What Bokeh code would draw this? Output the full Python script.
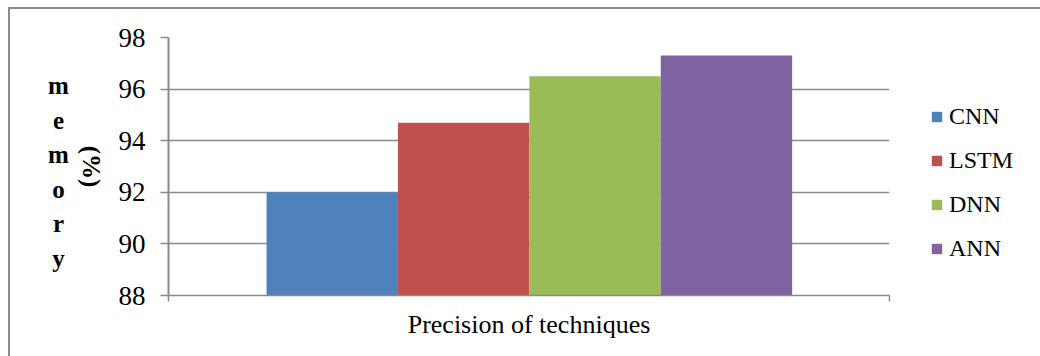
import math
from bokeh.plotting import figure
from bokeh.layouts import row
from bokeh.models import FixedTicker, Legend, LegendItem, ColumnDataSource
from bokeh.core.properties import value
from bokeh.embed import file_html
from bokeh.resources import INLINE

# ---- data ----
techniques = ["CNN", "LSTM", "DNN", "ANN"]
memory_pct = [92.0, 94.7, 96.5, 97.3]
colors = ["#4F81BD", "#C0504D", "#9BBB59", "#8064A2"]
y_ticks = [88, 90, 92, 94, 96, 98]
x_title = "Precision of techniques"
y_title_word = "memory"
y_title_unit = "(%)"

SERIF = "Liberation Serif"
GRID = "#8a8a8a"
H = 347
LEFT_W, MAIN_W, RIGHT_W = 102, 782, 146
BORDER_TOP, BORDER_BOTTOM = 28, 61


def blank(width, xr, yr):
    f = figure(width=width, height=H, output_backend="svg", toolbar_location=None,
               x_range=xr, y_range=yr, x_axis_type=None, y_axis_type=None,
               min_border_left=0, min_border_right=0,
               min_border_top=BORDER_TOP, min_border_bottom=BORDER_BOTTOM)
    f.outline_line_color = None
    f.xgrid.visible = False
    f.ygrid.visible = False
    return f


# ---- left strip: stacked y-axis title (page-pixel coordinates) ----
left = blank(LEFT_W, (10, 10 + LEFT_W), (295, 37))
left.text(x=[58] * len(y_title_word),
          y=[85 + 34.5 * k for k in range(len(y_title_word))],
          text=list(y_title_word), text_font=value(SERIF), text_font_size="25px",
          text_font_style="bold", text_align="center", text_baseline="middle",
          text_color="black")
left.text(x=[91], y=[166], text=[y_title_unit], text_font=value(SERIF),
          text_font_size="25px", text_font_style="bold", text_align="center",
          text_baseline="middle", angle=-math.pi / 2, text_color="black")

# ---- main chart ----
p = figure(width=MAIN_W, height=H, output_backend="svg", toolbar_location=None,
           x_range=(0, 1), y_range=(88, 98),
           min_border_left=56, min_border_right=5,
           min_border_top=BORDER_TOP, min_border_bottom=BORDER_BOTTOM)
p.outline_line_color = None

# clustered bars for a single category
start, span = 0.136, 0.729
w = span / len(techniques)
xs = [start + w * (i + 0.5) for i in range(len(techniques))]
for i, (val, col) in enumerate(zip(memory_pct, colors)):
    p.vbar(x=[xs[i]], top=[val], bottom=88, width=w, fill_color=col, line_color=None)

yax = p.yaxis[0]
yax.ticker = FixedTicker(ticks=y_ticks)
yax.minor_tick_line_color = None
yax.major_tick_in = 0
yax.major_tick_out = 8
yax.major_tick_line_color = GRID
yax.major_tick_line_width = 1.5
yax.axis_line_color = GRID
yax.axis_line_width = 2
yax.major_label_text_font = SERIF
yax.major_label_text_font_size = "27px"
yax.major_label_text_color = "black"
yax.major_label_standoff = 15

xax = p.xaxis[0]
xax.ticker = FixedTicker(ticks=[0, 1])
xax.major_label_overrides = {0: "", 1: ""}
xax.major_label_text_font_size = "1px"
xax.minor_tick_line_color = None
xax.major_tick_in = 0
xax.major_tick_out = 6
xax.major_tick_line_color = GRID
xax.major_tick_line_width = 1.5
xax.axis_line_color = GRID
xax.axis_line_width = 1.5
xax.axis_label = x_title
xax.axis_label_text_font = SERIF
xax.axis_label_text_font_size = "26px"
xax.axis_label_text_font_style = "normal"
xax.axis_label_text_color = "black"
xax.axis_label_standoff = 8

p.xgrid.grid_line_color = None
p.ygrid.ticker = FixedTicker(ticks=y_ticks)
p.ygrid.grid_line_color = GRID
p.ygrid.grid_line_width = 1.5

# ---- right strip: legend driven by hidden copies of the bar renderers ----
right = blank(RIGHT_W, (0, 1), (0, 1))
items = []
for i, (name, val, col) in enumerate(zip(techniques, memory_pct, colors)):
    src = ColumnDataSource(dict(x=[xs[i]], top=[val]))
    r = right.vbar(x="x", top="top", bottom=88, width=w, source=src,
                   fill_color=col, line_color=None, visible=False)
    items.append(LegendItem(label=name, renderers=[r]))
legend = Legend(items=items, location=(36, 33), orientation="vertical",
                label_text_font=SERIF, label_text_font_size="24px",
                label_text_color="black", glyph_width=13, glyph_height=13,
                label_standoff=6, spacing=17, padding=0, margin=0,
                border_line_color=None, background_fill_alpha=0,
                inactive_fill_alpha=0)
right.add_layout(legend, "center")

layout = row(left, p, right, spacing=0)
layout.margin = (7, 0, 0, 8)
layout.styles = {"border-top": "2px solid #8c8c8c", "border-left": "2px solid #8c8c8c"}

open("out.html", "w").write(file_html(layout, INLINE))
